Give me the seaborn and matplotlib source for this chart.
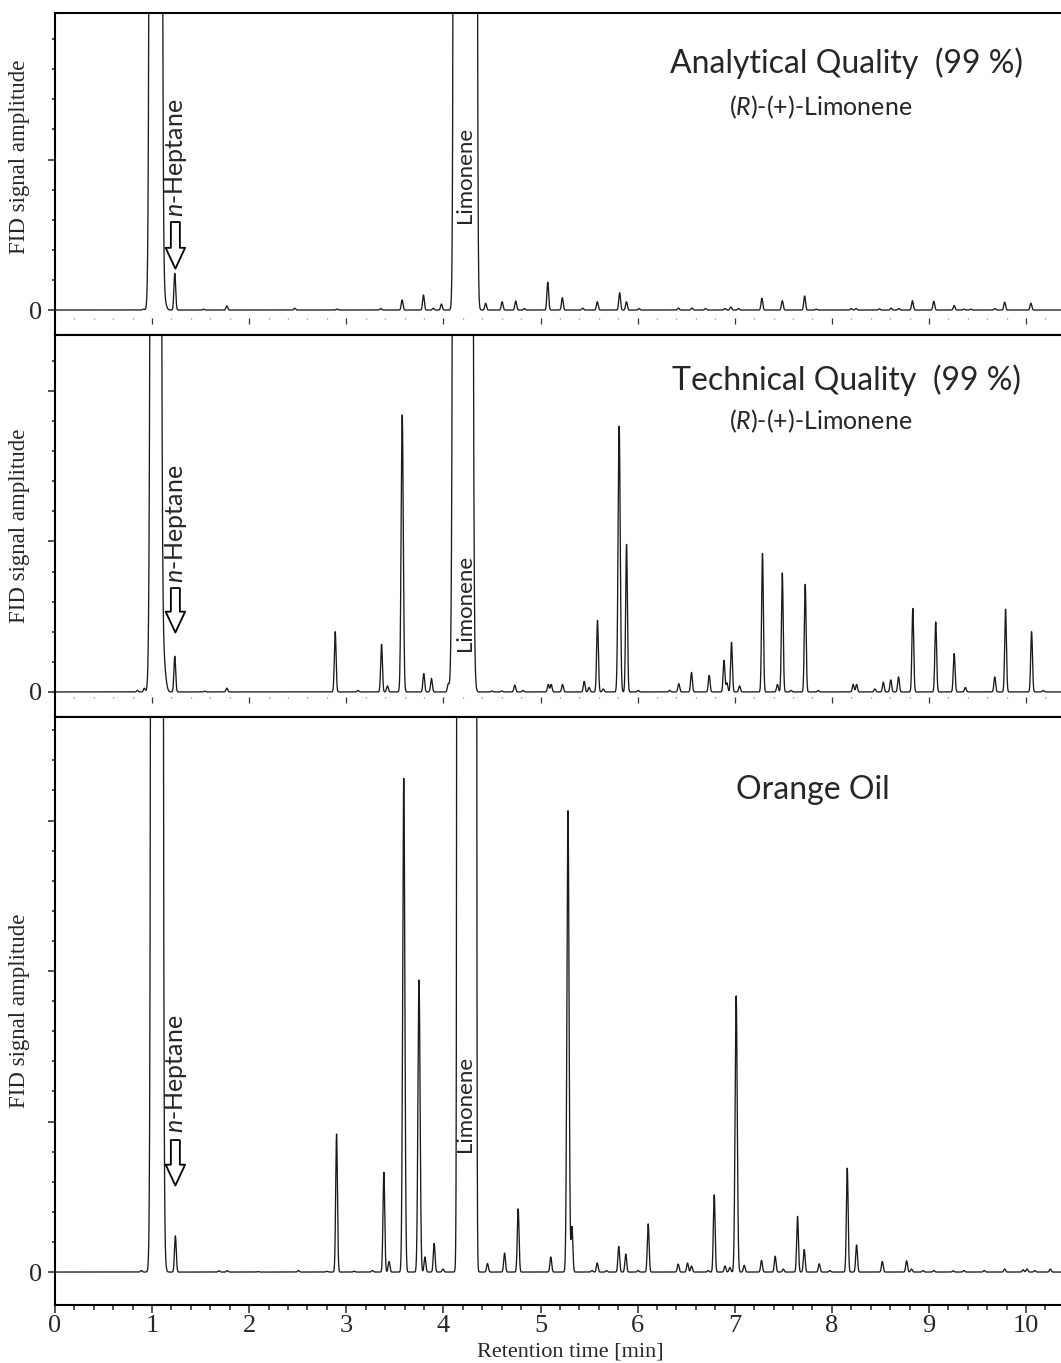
import numpy as np
import pandas as pd
import matplotlib
matplotlib.use("Agg")
import matplotlib.pyplot as plt
import seaborn as sns
from matplotlib.ticker import FixedLocator, FuncFormatter

OUT_PATH = "out.png"

# peaks: retention time [min], apex height (1 unit = one major y tick)
ANALYTICAL_RT = [0.91, 1.234, 1.53, 1.77, 2.47, 2.905, 3.355, 3.575, 3.795, 3.895, 3.98,
                 4.435, 4.605, 4.745, 4.835, 5.075, 5.225, 5.435, 5.585, 5.815, 5.885,
                 6.015, 6.42, 6.56, 6.70, 6.90, 6.96, 7.04, 7.28, 7.49, 7.72, 7.84, 8.20,
                 8.25, 8.49, 8.61, 8.69, 8.83, 9.05, 9.26, 9.36, 9.43, 9.68, 9.78, 10.05]
ANALYTICAL_H = [0.006, 0.244, 0.005, 0.027, 0.012, 0.006, 0.01, 0.067, 0.10, 0.012, 0.04,
                0.045, 0.055, 0.06, 0.01, 0.185, 0.082, 0.012, 0.055, 0.115, 0.055,
                0.01, 0.013, 0.013, 0.01, 0.01, 0.02, 0.01, 0.078, 0.062, 0.093, 0.006, 0.01,
                0.01, 0.008, 0.013, 0.01, 0.062, 0.058, 0.03, 0.006, 0.006, 0.01, 0.053, 0.045]

TECHNICAL_RT = [0.85, 0.92, 1.234, 1.54, 1.77, 2.886, 3.12, 3.363, 3.424, 3.576, 3.798,
                3.877, 4.05, 4.50, 4.60, 4.735, 4.82, 5.08, 5.11, 5.227, 5.45, 5.50, 5.587,
                5.646, 5.81, 5.886, 6.006, 6.33, 6.424, 6.555, 6.737, 6.89, 6.92, 6.967,
                7.05, 7.286, 7.44, 7.49, 7.58, 7.726, 7.86, 8.22, 8.255, 8.443, 8.53, 8.607,
                8.687, 8.834, 9.07, 9.26, 9.375, 9.678, 9.789, 10.057, 10.177]
TECHNICAL_H = [0.01, 0.025, 0.237, 0.005, 0.025, 0.40, 0.01, 0.317, 0.04, 1.84, 0.122,
               0.09, 0.05, 0.006, 0.006, 0.045, 0.01, 0.05, 0.05, 0.05, 0.07, 0.03, 0.475,
               0.02, 1.765, 0.98, 0.01, 0.01, 0.055, 0.13, 0.11, 0.21, 0.06, 0.33,
               0.04, 0.92, 0.05, 0.79, 0.01, 0.715, 0.01, 0.05, 0.05, 0.02, 0.065, 0.08,
               0.10, 0.555, 0.465, 0.255, 0.03, 0.10, 0.55, 0.40, 0.01]

ORANGE_RT = [0.89, 1.24, 1.69, 1.775, 2.09, 2.507, 2.80, 2.90, 3.08, 3.27, 3.387, 3.44,
             3.592, 3.749, 3.81, 3.905, 3.996, 4.454, 4.63, 4.77, 5.106, 5.283, 5.324,
             5.53, 5.584, 5.68, 5.806, 5.878, 6.006, 6.109, 6.418, 6.514, 6.555, 6.727,
             6.789, 6.90, 6.95, 7.015, 7.098, 7.276, 7.417, 7.50, 7.647, 7.716, 7.87,
             7.98, 8.159, 8.255, 8.52, 8.77, 8.82, 8.94, 9.05, 9.25, 9.36, 9.57, 9.78,
             9.97, 10.01, 10.09, 10.25]
ORANGE_H = [0.01, 0.24, 0.008, 0.01, 0.003, 0.01, 0.005, 0.917, 0.005, 0.01, 0.663, 0.07,
            3.28, 1.94, 0.10, 0.19, 0.02, 0.057, 0.126, 0.42, 0.10, 3.065, 0.30,
            0.01, 0.06, 0.01, 0.17, 0.12, 0.01, 0.32, 0.053, 0.06, 0.04, 0.01,
            0.513, 0.04, 0.03, 1.835, 0.045, 0.078, 0.105, 0.02, 0.37, 0.15, 0.055,
            0.01, 0.69, 0.18, 0.07, 0.075, 0.02, 0.01, 0.01, 0.008, 0.01, 0.01, 0.02,
            0.015, 0.02, 0.01, 0.02]

# off-scale peaks (solvent front with tail, limonene): centre, apex, sigma
ANALYTICAL_BIG = [(1.038, 283.0, 0.023), (1.12, 0.08, 0.02), (4.225, 2.7e5, 0.0262)]
TECHNICAL_BIG = [(1.038, 81.0, 0.0233), (1.115, 0.22, 0.022), (4.20, 2400.0, 0.0295)]
ORANGE_BIG = [(1.05, 615.0, 0.021), (1.12, 0.10, 0.015), (4.24, 1.1e7, 0.0190)]

PANEL_TITLES = ["Analytical Quality  (99 %)", "Technical Quality  (99 %)", "Orange Oil"]
SUBTITLE = "$\\mathit{(R)}$-(+)-Limonene"
HEPTANE = "$\\mathit{n}$-Heptane"


def chromatogram(rts, hs, big):
    t = np.arange(0.0, 10.45, 0.001)
    y = np.zeros_like(t)
    for r, h in zip(rts, hs):
        w = 0.011 if h > 1 else 0.009
        y += h * np.exp(-0.5 * ((t - r) / w) ** 2)
    for r, h, w in big:
        y += h * np.exp(-0.5 * ((t - r) / w) ** 2)
    return pd.DataFrame({"time": t, "signal": y})


def main():
    sns.set_style("ticks")
    plt.rcParams["font.family"] = ["Liberation Serif", "DejaVu Serif"]
    plt.rcParams["mathtext.fontset"] = "custom"
    plt.rcParams["mathtext.rm"] = "Lato"
    plt.rcParams["mathtext.it"] = "Lato:italic"

    fig = plt.figure(figsize=(10.61, 13.63), dpi=100)
    left, width = 0.0518, 0.9482
    ax_top = fig.add_axes([left, 0.7542, width, 0.2362])
    ax_mid = fig.add_axes([left, 0.4740, width, 0.2803])
    ax_bot = fig.add_axes([left, 0.04255, width, 0.4314])
    axes = [ax_top, ax_mid, ax_bot]

    data = [chromatogram(ANALYTICAL_RT, ANALYTICAL_H, ANALYTICAL_BIG),
            chromatogram(TECHNICAL_RT, TECHNICAL_H, TECHNICAL_BIG),
            chromatogram(ORANGE_RT, ORANGE_H, ORANGE_BIG)]
    ylims = [(-0.166, 1.973), (-0.166, 2.372), (-0.219, 3.688)]
    label_y = [0.553, 0.50, 0.50]

    for ax, df, yl, ly in zip(axes, data, ylims, label_y):
        sns.lineplot(data=df, x="time", y="signal", ax=ax, color="#1a1a1a",
                     lw=0.95, estimator=None)
        ax.set_xlim(0, 10.36)
        ax.set_ylim(*yl)
        ax.spines["right"].set_visible(False)
        for s in ["left", "bottom", "top"]:
            ax.spines[s].set_linewidth(1.5)
            ax.spines[s].set_color("black")
        ax.yaxis.set_major_locator(FixedLocator(np.arange(0, yl[1], 1.0)))
        ax.yaxis.set_minor_locator(FixedLocator(np.arange(0, yl[1], 0.2)))
        ax.yaxis.set_major_formatter(FuncFormatter(lambda v, p: "0" if abs(v) < 1e-9 else ""))
        ax.tick_params(axis="y", which="major", length=5, width=1.1, pad=4, labelsize=19)
        ax.tick_params(axis="y", which="minor", length=2.5, width=1.1)
        ax.set_ylabel("FID signal amplitude", fontsize=16.5)
        ax.yaxis.set_label_coords(-0.0245, ly)
        ax.set_xlabel("")

    # inner time rows in the upper two panels
    for ax, loc in [(ax_top, 0.053), (ax_mid, 0.052)]:
        ax.tick_params(axis="x", which="both", bottom=False, labelbottom=False)
        sec = ax.secondary_xaxis(loc)
        for s in sec.spines.values():
            s.set_visible(False)
        sec.xaxis.set_major_locator(FixedLocator(np.arange(1, 11)))
        minor = [v for v in np.arange(0.2, 10.4, 0.2) if abs(v - round(v)) > 1e-6]
        sec.xaxis.set_minor_locator(FixedLocator(minor))
        sec.tick_params(which="major", direction="out", length=4.5, width=0.9,
                        color="#333333", labelbottom=False, labeltop=False)
        sec.tick_params(which="minor", direction="out", length=1.0, width=1.0,
                        color="#777777")
        for tk in sec.xaxis.get_major_ticks():
            if round(tk.get_loc()) in (5, 10):
                tk.tick1line.set_markersize(8)

    ax_bot.xaxis.set_major_locator(FixedLocator(np.arange(0, 11)))
    ax_bot.xaxis.set_minor_locator(FixedLocator(np.arange(0, 10.4, 0.2)))
    ax_bot.tick_params(axis="x", which="major", length=6, width=1.1, labelsize=19, pad=1)
    ax_bot.tick_params(axis="x", which="minor", length=3.5, width=1.1)
    ax_bot.set_xlabel("Retention time [min]", fontsize=16)
    ax_bot.xaxis.set_label_coords(0.512, -0.063)

    # titles and peak labels
    title_pos = [(8.15, 1.64), (8.15, 2.073), (7.81, 3.20)]
    sub_pos = [(7.89, 1.35), (7.89, 1.80)]
    heptane_y = [1.014, 1.116, 1.316]
    arrow_y = [(0.585, 0.275), (0.69, 0.395), (0.877, 0.575)]
    limonene_y = [0.90, 0.59, 1.116]
    for i, ax in enumerate(axes):
        ax.text(*title_pos[i], PANEL_TITLES[i], family="Lato", fontsize=23,
                ha="center", va="center")
        if i < 2:
            ax.text(*sub_pos[i], SUBTITLE, family="Lato", fontsize=18,
                    ha="center", va="center")
        ax.text(1.25, heptane_y[i], HEPTANE, family="Lato", fontsize=18,
                rotation=90, ha="center", va="center")
        ax.text(4.225, limonene_y[i], "Limonene", family="Lato", fontsize=16,
                rotation=90, ha="center", va="center")
        ax.annotate("", xy=(1.24, arrow_y[i][1]), xytext=(1.24, arrow_y[i][0]),
                    arrowprops=dict(arrowstyle="simple,head_length=1.5,head_width=1.4,tail_width=0.65",
                                    fc="white", ec="black", lw=1.3,
                                    shrinkA=0, shrinkB=0, mutation_scale=10))

    fig.savefig(OUT_PATH, dpi=100)
    plt.close(fig)


if __name__ == "__main__":
    main()
